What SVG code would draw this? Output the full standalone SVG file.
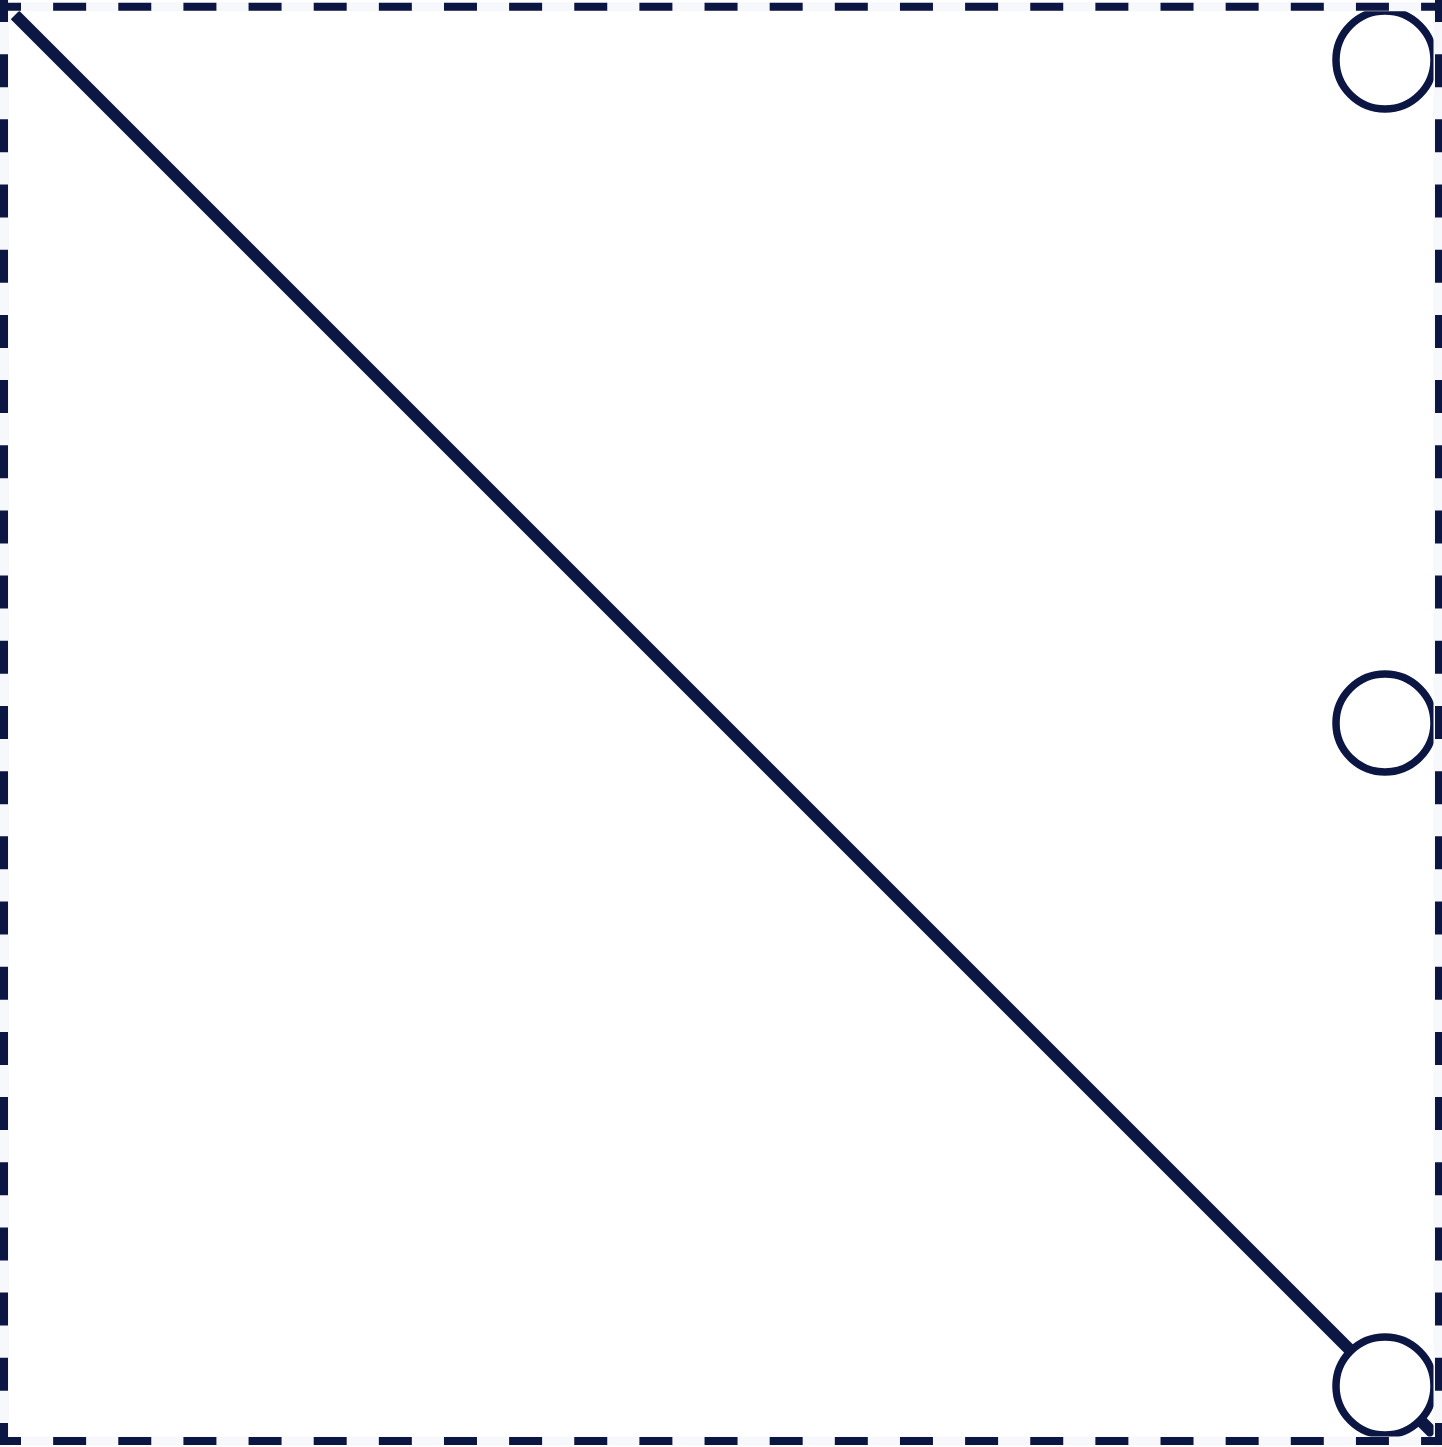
<svg xmlns="http://www.w3.org/2000/svg" width="1442" height="1447" viewBox="0 0 1442 1447">
<style>
.band{stroke:#f7f8fc;stroke-width:9;fill:none}
.dashH{stroke:#0c1642;stroke-width:8;fill:none;stroke-dasharray:33 32.14;stroke-dashoffset:12}
.dashV{stroke:#0c1642;stroke-width:8;fill:none;stroke-dasharray:33 32.18;stroke-dashoffset:11}
.node{fill:#ffffff;stroke:#0c1642;stroke-width:7.5}
.conn{stroke:#0c1744;stroke-width:12;fill:none}
</style>
<rect x="0" y="0" width="1442" height="1447" fill="#ffffff"/>
<g id="connectors">
<line class="conn" x1="15" y1="15" x2="1434" y2="1434"/>
</g>
<g id="node-top"><circle class="node" cx="1385" cy="60" r="49"/></g>
<g id="node-middle"><circle class="node" cx="1385" cy="723" r="49"/></g>
<g id="node-bottom"><circle class="node" cx="1385" cy="1386" r="49"/></g>
<g id="frame">
<line class="band" x1="0" y1="6.7" x2="1442" y2="6.7"/>
<line class="band" x1="0" y1="1441" x2="1442" y2="1441"/>
<line class="band" x1="4.5" y1="0" x2="4.5" y2="1447"/>
<line class="band" x1="1438" y1="0" x2="1438" y2="1447"/>
<line class="dashH" x1="0" y1="6.7" x2="1442" y2="6.7"/>
<line class="dashH" x1="0" y1="1441" x2="1442" y2="1441"/>
<line class="dashV" x1="4" y1="0" x2="4" y2="1445"/>
<line class="dashV" x1="1439" y1="0" x2="1439" y2="1445"/>
</g>
</svg>
